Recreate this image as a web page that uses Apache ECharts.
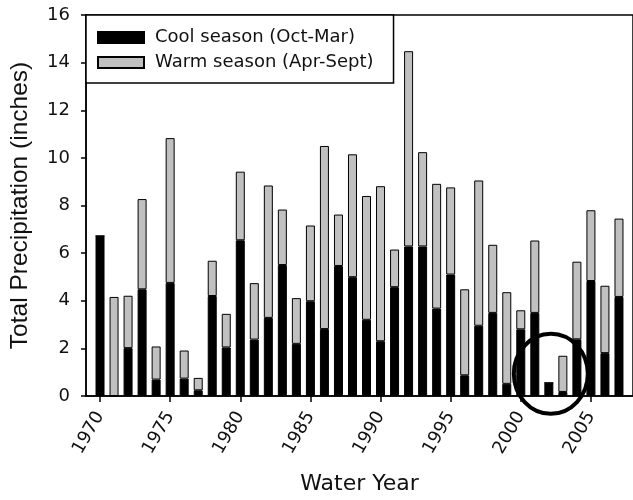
<!DOCTYPE html>
<html><head><meta charset="utf-8">
<script src="https://cdn.jsdelivr.net/npm/echarts@6/dist/echarts.min.js"></script>
<style>html,body{margin:0;padding:0;background:#fff}#c{width:633px;height:500px}</style>
</head><body><div id="c"></div>
<script>
const years = [1970,1971,1972,1973,1974,1975,1976,1977,1978,1979,1980,1981,1982,1983,1984,1985,1986,1987,1988,1989,1990,1991,1992,1993,1994,1995,1996,1997,1998,1999,2000,2001,2002,2003,2004,2005,2006,2007];
const coolSeason = [6.72,0,2.01,4.48,0.69,4.75,0.73,0.24,4.20,2.04,6.54,2.37,3.28,5.50,2.19,3.98,2.81,5.46,4.99,3.20,2.30,4.57,6.28,6.28,3.67,5.10,0.87,2.95,3.49,0.51,2.80,3.49,0.55,0.17,2.38,4.83,1.80,4.16];
const warmSeason = [0,4.16,2.20,3.79,1.39,6.08,1.18,0.52,1.48,1.41,2.88,2.37,5.56,2.33,1.92,3.18,7.69,2.16,5.16,5.20,6.51,1.58,8.20,3.96,5.24,3.66,3.61,6.10,2.86,3.85,0.80,3.04,0,1.52,3.26,2.97,2.83,3.29];
const xTickLabels = [1970,1975,1980,1985,1990,1995,2000,2005];
const yTickLabels = [0,2,4,6,8,10,12,14,16];
const seriesNames = ['Cool season (Oct-Mar)','Warm season (Apr-Sept)'];
const axisStartYear = 1969, axisEndYear = 2008;
const highlightYear = '2002', highlightValue = 0.93;

// category list padded by one empty year on each side (axis runs 1969..2008)
const axisYears = [String(axisStartYear)].concat(years.map(String), [String(axisEndYear)]);
const pad = arr => [null].concat(arr, [null]);

const chart = echarts.init(document.getElementById('c'), null, {renderer:'canvas'});
const axisTxt = {color:'#111', fontFamily:'DejaVu Sans', fontSize:18};
const isTick = (i, v) => xTickLabels.indexOf(Number(v)) >= 0;
chart.setOption({
  animation:false,
  grid:{left:85, top:15, width:551, height:385, show:true, borderColor:'#000', borderWidth:1.5, backgroundColor:'transparent'},
  legend:{
    left:86, top:15, orient:'vertical', icon:'rect', itemWidth:46, itemHeight:11, itemGap:0,
    padding:[10,20,8,11], borderColor:'#000', borderWidth:1.5, backgroundColor:'#fff',
    textStyle:{color:'#111', fontFamily:'DejaVu Sans', fontSize:18, lineHeight:25, padding:[0,0,0,6]},
    data:seriesNames, selectedMode:false
  },
  xAxis:{
    type:'category', data:axisYears, boundaryGap:false,
    name:'Water Year', nameLocation:'middle', nameGap:77,
    nameTextStyle:{color:'#111', fontFamily:'DejaVu Sans', fontSize:22},
    axisLine:{show:true, lineStyle:{color:'#000', width:1.5}},
    axisTick:{show:true, length:6, lineStyle:{color:'#000', width:1.5}, interval:isTick},
    axisLabel:Object.assign({rotate:60, margin:17, interval:isTick}, axisTxt),
    splitLine:{show:false}
  },
  yAxis:{
    type:'value', min:0, max:16, interval:2,
    name:'Total Precipitation (inches)', nameLocation:'middle', nameGap:53,
    nameTextStyle:{color:'#111', fontFamily:'Liberation Sans', fontSize:24.5},
    axisLine:{show:true, lineStyle:{color:'#000', width:1.5}},
    axisTick:{show:true, length:5, lineStyle:{color:'#000', width:1.5}},
    axisLabel:Object.assign({margin:16}, axisTxt),
    splitLine:{show:false}
  },
  series:[
    {name:seriesNames[0], type:'bar', stack:'p', barWidth:9,
     itemStyle:{color:'#000', borderColor:'#000', borderWidth:1},
     data:pad(coolSeason)},
    {name:seriesNames[1], type:'bar', stack:'p', barWidth:9,
     itemStyle:{color:'#c0c0c0', borderColor:'#000', borderWidth:1},
     data:pad(warmSeason)}
  ]
});
const ctr = chart.convertToPixel({gridIndex:0}, [highlightYear, highlightValue]);
const ctrX = ctr[0] + 0.14 * (551 / (axisEndYear - axisStartYear));
chart.setOption({graphic:[{type:'ellipse', z:100, shape:{cx:ctrX, cy:ctr[1], rx:37, ry:40}, style:{fill:null, stroke:'#000', lineWidth:4}}]});
</script></body></html>
